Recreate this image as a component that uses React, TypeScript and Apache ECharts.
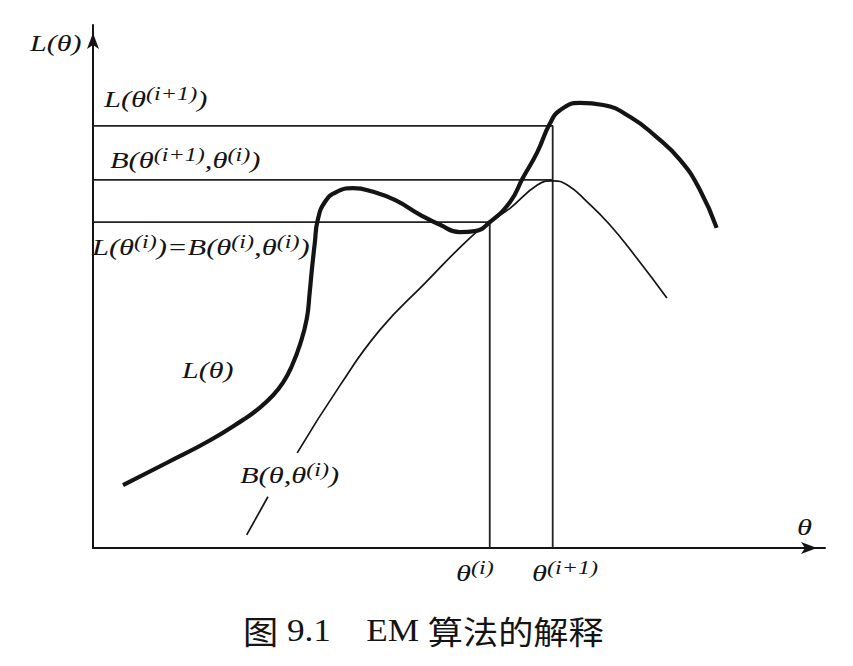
import React, { useEffect, useRef } from "react";
import * as echarts from "echarts";

// theta (x) and likelihood (y) in arbitrary units, 0..10 on both axes
const L_CURVE: [number, number][] = [
  [0.41, 1.2], [1.01, 1.63], [1.6, 2.06], [2.05, 2.45], [2.25, 2.65],
  [2.46, 2.92], [2.6, 3.17], [2.71, 3.46], [2.83, 3.9], [2.92, 4.38],
  [2.96, 4.88], [2.99, 5.32], [3.03, 5.83], [3.07, 6.27], [3.17, 6.62],
  [3.33, 6.81], [3.55, 6.88], [3.83, 6.81], [4.13, 6.65], [4.47, 6.37],
  [4.74, 6.18], [5.01, 6.04], [5.22, 6.06], [5.42, 6.23], [5.7, 6.62],
  [5.87, 7.07], [6.07, 7.57], [6.24, 8.11], [6.38, 8.37], [6.65, 8.51],
  [6.97, 8.47], [7.34, 8.24], [7.68, 7.88], [8.02, 7.42], [8.29, 6.85],
  [8.52, 6.12],
];
const B_LOWER: [number, number][] = [[2.1, 0.25], [2.39, 0.98]];
const B_UPPER: [number, number][] = [
  [2.79, 1.82], [3.37, 3.1], [3.92, 4.17], [4.54, 5.07], [5.15, 5.93],
  [5.42, 6.23], [5.7, 6.5], [6.07, 6.94], [6.28, 7.02], [6.48, 6.94],
  [6.75, 6.62], [7.06, 6.18], [7.43, 5.54], [7.84, 4.78],
];
const THETA_I = 5.42;
const THETA_I1 = 6.28;
const L_I = 6.23;
const L_I1 = 8.07;
const B_I1 = 7.04;

const CAPTION_CJK_1 = "图";
const CAPTION_NUM = " 9.1    EM ";
const CAPTION_CJK_2 = "算法的解释";

const SERIF = "'Liberation Serif','Times New Roman',serif";
const CJK = "'Noto Sans CJK SC','Noto Sans CJK JP',sans-serif";
const INK = "#141414";

const rich: any = {
  m: { fontFamily: SERIF, fontStyle: "italic", fontSize: 24, lineHeight: 30, fill: INK },
  s: { fontFamily: SERIF, fontStyle: "italic", fontSize: 19, lineHeight: 15, verticalAlign: "top", fill: INK },
  c: { fontFamily: CJK, fontSize: 32, lineHeight: 36, fill: INK },
  e: { fontFamily: SERIF, fontSize: 32, lineHeight: 36, fill: INK },
};

function label(text: string, x: number, y: number, sx = 1.27) {
  return {
    type: "text",
    x,
    y,
    scaleX: sx,
    silent: true,
    z: 10,
    style: { text, rich, fill: INK, align: "left", verticalAlign: "top" },
  };
}

export default function App() {
  const ref = useRef<HTMLDivElement>(null);
  useEffect(() => {
    if (!ref.current) return;
    const chart = echarts.init(ref.current, null, { renderer: "svg" });
    const thin = { color: INK, width: 1.7 };
    const guide = { color: "#222222", width: 1.8 };
    const axisCommon = {
      type: "value",
      min: 0,
      max: 10,
      axisTick: { show: false },
      axisLabel: { show: false },
      splitLine: { show: false },
      axisLine: {
        show: true,
        symbol: ["none", "arrow"],
        symbolSize: [9, 16],
        symbolOffset: [0, -8],
        lineStyle: { color: INK, width: 2 },
      },
    };
    chart.setOption({
      animation: false,
      backgroundColor: "#ffffff",
      grid: { left: 93, right: 28, top: 25, bottom: 118 },
      xAxis: { ...axisCommon },
      yAxis: { ...axisCommon },
      series: [
        {
          type: "line",
          data: [[0, L_I1], [THETA_I1, L_I1], [THETA_I1, 0]],
          showSymbol: false,
          lineStyle: guide,
          silent: true,
        },
        {
          type: "line",
          data: [[0, B_I1], [THETA_I1, B_I1]],
          showSymbol: false,
          lineStyle: guide,
          silent: true,
        },
        {
          type: "line",
          data: [[0, L_I], [THETA_I, L_I], [THETA_I, 0]],
          showSymbol: false,
          lineStyle: guide,
          silent: true,
        },
        {
          type: "line",
          data: B_LOWER,
          showSymbol: false,
          lineStyle: thin,
          silent: true,
        },
        {
          type: "line",
          data: B_UPPER,
          smooth: 0.5,
          showSymbol: false,
          lineStyle: thin,
          silent: true,
        },
        {
          type: "line",
          data: L_CURVE,
          smooth: 0.5,
          showSymbol: false,
          lineStyle: { color: INK, width: 4.2 },
          silent: true,
        },
      ],
      graphic: [
        label("{m|L(θ)}", 30, 28, 1.25),
        label("{m|L(θ}{s|(i+1)}{m|)}", 104, 84),
        label("{m|B(θ}{s|(i+1)}{m|,θ}{s|(i)}{m|)}", 110, 145),
        label("{m|L(θ}{s|(i)}{m|)=B(θ}{s|(i)}{m|,θ}{s|(i)}{m|)}", 92, 232),
        label("{m|L(θ)}", 182, 355, 1.25),
        label("{m|B(θ,θ}{s|(i)}{m|)}", 240, 460),
        label("{m|θ}", 797, 512),
        label("{m|θ}{s|(i)}", 456, 558),
        label("{m|θ}{s|(i+1)}", 532, 558),
        label("{c|" + CAPTION_CJK_1 + "}{e|" + CAPTION_NUM + "}{c|" + CAPTION_CJK_2 + "}", 243, 612, 1.1),
      ],
    });
    return () => chart.dispose();
  }, []);
  return (
    <div
      ref={ref}
      style={{ position: "absolute", left: 0, top: 0, width: 853, height: 666 }}
    />
  );
}
